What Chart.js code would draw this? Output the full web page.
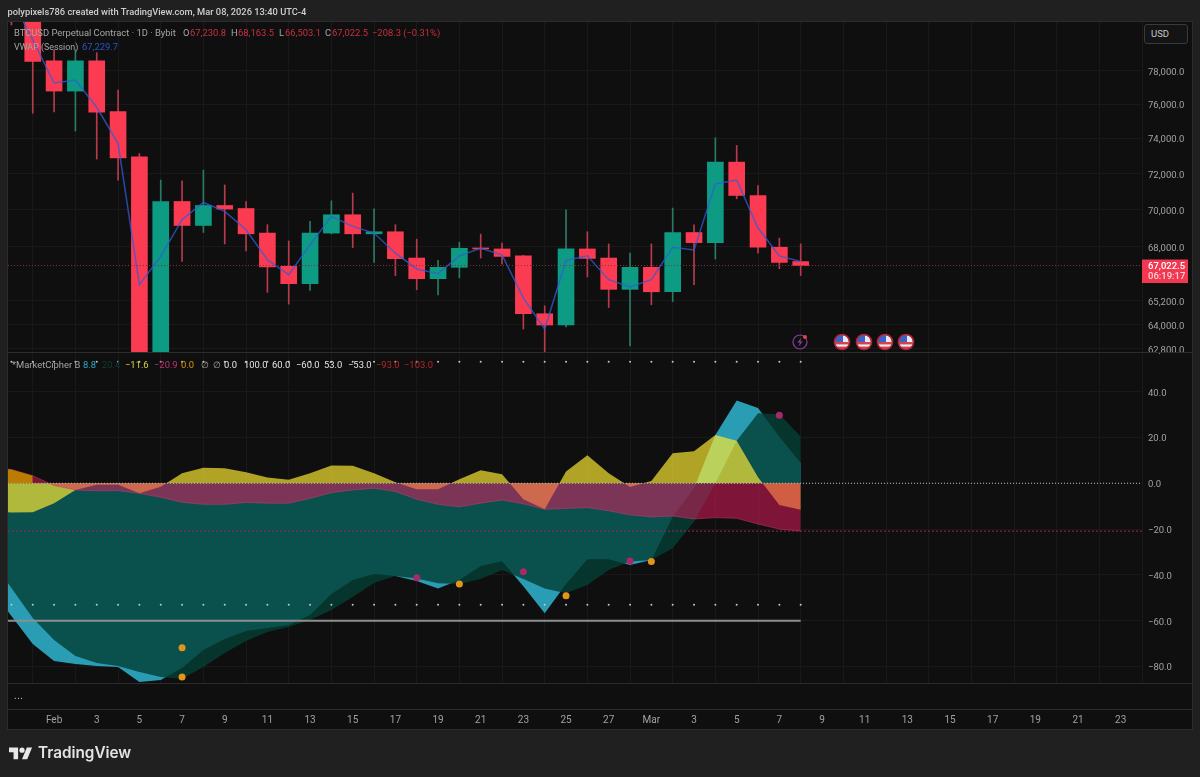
<!DOCTYPE html>
<html>
<head>
<meta charset="utf-8">
<title>BTCUSD MarketCipher B</title>
<script src="https://cdn.jsdelivr.net/npm/chart.js@4"></script>
<style>
  html, body { margin: 0; padding: 0; background: #202020; overflow: hidden; }
  #page { position: relative; width: 1200px; height: 777px; font-family: Roboto, sans-serif; }
  canvas { position: absolute; left: 0; top: 0; }
  .txt { position: absolute; white-space: nowrap; line-height: 12px; }
  #byline { left: 7.5px; top: 5.5px; font-size: 9.3px; font-weight: 500; color: #cfcfcf; }
  #usd { position: absolute; left: 1144px; top: 24px; width: 44px; height: 20px; box-sizing: border-box;
         border: 1px solid #3a3a3a; border-radius: 3px; background: #141414; color: #c8c8c8;
         font-size: 9.5px; line-height: 18px; padding-left: 6px; }
  #more { left: 14px; top: 690px; font-size: 10px; color: #c8c8c8; letter-spacing: 0.5px; }
  #brand { left: 38px; top: 745px; font-family: Inter, sans-serif; font-size: 15.3px; line-height: 16px; font-weight: 600; color: #e4e4e4; }
  svg.icon { position: absolute; }
</style>
</head>
<body>
<div id="page">
  <canvas id="myChart" width="1200" height="777"></canvas>
  <div class="txt" id="byline">polypixels786 created with TradingView.com, Mar 08, 2026 13:40 UTC-4</div>
  <div id="usd">USD</div>
  <div class="txt" id="more">...</div>
  <div class="txt" id="brand">TradingView</div>

  <svg width="0" height="0" style="position:absolute">
    <symbol id="flag" viewBox="0 0 18 18">
      <clipPath id="round"><circle cx="9" cy="9" r="7"/></clipPath>
      <g clip-path="url(#round)">
        <rect width="18" height="18" fill="#e8e8f0"/>
        <rect y="9" width="18" height="2.4" fill="#d8404f"/>
        <rect y="13.6" width="18" height="2.4" fill="#d8404f"/>
        <rect width="10" height="9" fill="#3a62c8"/>
      </g>
      <circle cx="9" cy="9" r="7.6" fill="none" stroke="#b02433" stroke-width="1.5"/>
    </symbol>
  </svg>
  <svg class="icon" style="left:833px;top:333px" width="18" height="18"><use href="#flag"/></svg>
  <svg class="icon" style="left:854.5px;top:333px" width="18" height="18"><use href="#flag"/></svg>
  <svg class="icon" style="left:876px;top:333px" width="18" height="18"><use href="#flag"/></svg>
  <svg class="icon" style="left:897px;top:333px" width="18" height="18"><use href="#flag"/></svg>
  <svg class="icon" style="left:791px;top:333px" width="18" height="18" viewBox="0 0 18 18">
    <circle cx="9" cy="9" r="7" fill="none" stroke="#8a3ea4" stroke-width="1.2"/>
    <path d="M10.5 4.6 6.4 9.6h2.5L7.6 13.4l4-5H9.2z" fill="#8a3ea4"/>
    <circle cx="14" cy="4" r="2" fill="#e8404a"/>
  </svg>
  <svg class="icon" style="left:9.3px;top:744.7px" width="23.4" height="18.2" viewBox="0 0 36 28">
    <path fill="#e8e8e8" d="M14 22H7V11H0V4h14v18zM28 22h-8l7.5-18h8L28 22z"/>
    <circle fill="#e8e8e8" cx="20" cy="8" r="4"/>
  </svg>
</div>

<script>
// days run from Jan 29, x position is the day number counted from Feb 1
const firstDay = -3;
const tickLabels = ['Feb','3','5','7','9','11','13','15','17','19','21','23','25','27',
                    'Mar','3','5','7','9','11','13','15','17','19','21','23'];

// daily candles, Jan 30 to Mar 8
const candleFirstDay = -2;
const opens = [84500,84000,
  78620,76788,78620,75570,72950,62500,70455,69150,70235,70070,68740,66980,66080,68740,
  69730,68700,68810,67415,66340,66930,67930,67895,67530,64550,63985,67895,67415,65790,
  66930,65665,68770,68230,72650,70785,67985,67230.8];
const highs = [85000,84500,
  79300,79300,79120,76850,73140,71640,71605,72200,71370,70455,69190,68320,69370,70490,
  70915,70055,69190,68415,67290,68255,68685,68200,67560,64950,70000,68810,68160,67675,
  68160,70095,69190,74040,73600,71330,68470,68163.5];
const lows = [80850,75470,
  75547,74430,72820,71640,60200,60100,67240,68770,68160,67790,65630,65035,65730,68700,
  67965,67185,66500,65770,65510,66380,67415,67100,63785,62640,63885,66430,64865,62950,
  65000,65165,66030,67360,70600,67675,66860,66503.1];
const closes = [84000,78590,
  76788,78620,75530,72890,62500,70455,69150,70235,70040,68700,66950,66080,68740,69730,
  68700,68810,67380,66340,66930,67930,67895,67500,64550,63985,67895,67395,65790,66930,
  65665,68770,68230,72650,70785,67985,67185,67022.5];
const vwap = [82500,79920,
  77270,77455,75825,73720,66030,67500,69460,70400,69910,68920,67325,66550,68110,69640,
  69100,68740,67670,66845,66600,67530,67930,67585,65340,63785,67290,67530,66290,65910,
  66290,67985,67845,71425,71645,69010,67530,67229.7];
const lastPrice = 67022.5;
const countdown = '06:19:17';
const priceTicks = [78000,76000,74000,72000,70000,68000,65200,64000,62800];

// MarketCipher B series, Jan 29 to Mar 8
const wave1 = [-46.2,-57.9,-70.2,
  -77.6,-78.9,-79.8,-80.2,-86.8,-85.9,-80.7,-72.8,-68.0,-64.5,-63.2,-61.9,-57.5,-48.3,
  -42.2,-39.6,-40.5,-42.7,-45.9,-42.2,-36.1,-34.1,-45.0,-56.8,-44.0,-33.2,-33.2,-35.7,
  -33.5,-14.6,-2.2,21.1,36.1,32.8,20.3,8.8];
const wave2 = [-32.6,-45.7,-58.8,
  -68.4,-75.4,-78.5,-79.8,-82.4,-84.6,-85.5,-80.2,-74.1,-68.9,-64.9,-62.8,-59.7,-55.3,
  -49.7,-43.5,-40.5,-41.6,-43.7,-44.0,-41.8,-37.9,-41.8,-45.9,-48.0,-44.4,-37.9,-34.2,
  -33.5,-28.4,-16.8,0,18.6,30.6,30.1,20.4];
const rsiArea = [-12.2,-12.8,-12.7,
  -8.7,-2.9,-0.7,-0.7,-4.4,-1.5,4.4,6.8,6.6,4.8,2.5,1.5,4.4,7.7,
  7.6,4.4,0.4,-2.6,-2.6,1.7,5.7,3.9,-7.0,-11.4,5.1,12.2,4.4,-1.6,
  1.0,13.1,14.0,21.1,18.6,2.6,-9.5,-11.6];
const moneyFlow = [7.0,6.0,3.3,
  -1.0,-2.9,-3.3,-3.2,-4.4,-6.1,-8.3,-9.2,-9.2,-8.4,-8.7,-8.7,-6.6,-4.1,
  -2.9,-2.2,-3.6,-7.0,-9.2,-10.3,-8.7,-7.3,-9.0,-11.4,-11.0,-10.6,-12.0,-13.8,
  -14.7,-14.3,-15.6,-15.0,-15.3,-17.8,-20.0,-20.9];
const flowEdge = [7.0,6.0,3.3];
const oscTicks = [40,20,0,-20,-40,-60,-80];
const obLevel = 53, osLevel = -53, extremeLevel = -60, zeroLevel = 0;

// signal dots
const pinkDotDays = [17,22,27,34];
const pinkDotValues = [-41.2,-38.6,-33.9,29.7];
const orangeDotDays = [6,6,19,24,28];
const orangeDotValues = [-71.8,-84.6,-44.0,-49.1,-34.2];

const priceRed = '#c9303f';
const legendGrey = '#a6a6a6';
const priceLegend = [
  ['BTCUSD Perpetual Contract · 1D · Bybit',14,27,legendGrey,9.4],
  ['O',183,27,legendGrey,9.4],['67,230.8',190,27,priceRed,9.4],
  ['H',231,27,legendGrey,9.4],['68,163.5',238,27,priceRed,9.4],
  ['L',279,27,legendGrey,9.4],['66,503.1',285,27,priceRed,9.4],
  ['C',325,27,legendGrey,9.4],['67,022.5',332,27,priceRed,9.4],
  ['−208.3 (−0.31%)',372,27,priceRed,9.4],
  ['VWAP (Session)',14,41,legendGrey,8.9],['67,229.7',82,41,'#2d54c4',9.4]
];
const oscLegend = [
  ['*MarketCipher B',12,legendGrey],['8.8',83,'#2fa9c0'],['20.4',102,'#123c38'],
  ['−11.6',125,'#d6d24a'],['−20.9',154,'#c4326e'],['0.0',181,'#e0950f'],
  ['∅',201,'#a8a8a8'],['∅',213,'#a8a8a8'],['0.0',224,'#e6e6e6'],['100.0',244,'#e6e6e6'],
  ['60.0',272,'#e6e6e6'],['−60.0',296,'#e6e6e6'],['53.0',324,'#e6e6e6'],['−53.0',348,'#e6e6e6'],
  ['−93.0',376,'#b3262c'],['−103.0',404,'#b3262c']
];

const bgColor = '#0f0f0f';
const gridColor = '#191919';
const upColor = '#0d9b84';
const downColor = '#fb3b52';
const upWick = '#2a7a68';
const downWick = '#b83a4c';

function addText(text, x, y, color, size) {
  var el = document.createElement('div');
  el.className = 'txt';
  el.textContent = text;
  el.style.left = x + 'px';
  el.style.top = y + 'px';
  el.style.color = color;
  el.style.fontSize = size + 'px';
  document.getElementById('page').appendChild(el);
}
priceLegend.forEach(function (l) { addText(l[0], l[1], l[2], l[3], l[4]); });
oscLegend.forEach(function (l) { addText(l[0], l[1], 358.5, l[2], 9.4); });

function daySeries(values) {
  return values.map(function (v, i) { return { x: i + firstDay, y: v }; });
}
function dots(days, values) {
  return days.map(function (d, i) { return { x: d, y: values[i] }; });
}
const lastDay = firstDay + wave1.length - 1;
const allDays = wave1.map(function (v, i) { return i + firstDay; });
const axisMin = -2.16, axisMax = 51;

function area(values, color, extra) {
  return Object.assign({
    type: 'line', yAxisID: 'osc', data: daySeries(values), fill: { value: 0 },
    backgroundColor: color, borderWidth: 0, pointRadius: 0, tension: 0
  }, extra || {});
}
function levelLine(value, from, to, color, width, dash, order) {
  return {
    type: 'line', yAxisID: 'osc', data: [{ x: from, y: value }, { x: to, y: value }],
    borderColor: color, borderWidth: width, borderDash: dash, pointRadius: 0, fill: false, order: order
  };
}
function levelDots(value) {
  return {
    type: 'scatter', yAxisID: 'osc', order: 2, showLine: false,
    data: allDays.slice(1).map(function (d) { return { x: d, y: value }; }),
    pointRadius: 1, backgroundColor: '#c4c4c4', borderWidth: 0
  };
}
function signalDots(days, values, color, size) {
  return {
    type: 'scatter', yAxisID: 'osc', order: 1, showLine: false, data: dots(days, values),
    pointRadius: size, backgroundColor: color, borderWidth: 0
  };
}

const candleDays = opens.map(function (v, i) { return i + candleFirstDay; });
const candleColors = opens.map(function (o, i) { return closes[i] < o ? downColor : upColor; });
const wickColors = opens.map(function (o, i) { return closes[i] < o ? downWick : upWick; });

// panel backgrounds and separators
const panes = {
  id: 'panes',
  beforeDraw: function (chart) {
    const c = chart.ctx;
    c.fillStyle = bgColor;
    c.fillRect(8, 21, 1184, 709);
    // nudge the value labels down onto their grid lines
    [chart.scales.y, chart.scales.osc].forEach(function (s) {
      s.getLabelItems().forEach(function (it) { it.options.translation[1] += 1.5; });
    });
  },
  beforeDatasetsDraw: function (chart) {
    const c = chart.ctx, s = chart.scales.blank;
    c.fillStyle = bgColor;
    c.fillRect(8, s.top, 1184, s.bottom - s.top);
  },
  afterDraw: function (chart) {
    const c = chart.ctx, sc = chart.scales;
    c.strokeStyle = '#2c2c2c';
    c.lineWidth = 1;
    [sc.y.bottom, sc.osc.bottom, sc.blank.bottom].forEach(function (y) {
      c.beginPath();
      c.moveTo(8, Math.round(y) + 0.5);
      c.lineTo(1192, Math.round(y) + 0.5);
      c.stroke();
    });
    c.strokeRect(7.5, 21.5, 1185, 708);

    // last price tag on the price axis
    const py = sc.y.getPixelForValue(lastPrice);
    c.fillStyle = '#f23850';
    c.fillRect(1142, py - 6, 46, 23.5);
    c.textAlign = 'left';
    c.textBaseline = 'middle';
    c.font = '500 9.5px Roboto';
    c.fillStyle = '#ffffff';
    c.fillText(lastPrice.toLocaleString('en-US', { minimumFractionDigits: 1 }), 1148, py + 1);
    c.fillStyle = '#ffd0d6';
    c.fillText(countdown, 1148, py + 11.5);
  }
};

var chart = new Chart(document.getElementById('myChart').getContext('2d'), {
  type: 'line',
  plugins: [panes],
  data: {
    datasets: [
      // price pane
      {
        type: 'bar', yAxisID: 'y', order: 30, grouped: false, barThickness: 1,
        data: candleDays.map(function (d, i) { return { x: d, y: [lows[i], highs[i]] }; }),
        backgroundColor: wickColors, borderWidth: 0
      },
      {
        type: 'bar', yAxisID: 'y', order: 29, grouped: false, barThickness: 16, minBarLength: 1,
        data: candleDays.map(function (d, i) { return { x: d, y: [opens[i], closes[i]] }; }),
        backgroundColor: candleColors, borderWidth: 0
      },
      {
        type: 'line', yAxisID: 'y', order: 28,
        data: candleDays.map(function (d, i) { return { x: d, y: vwap[i] }; }),
        borderColor: 'rgba(48,92,214,0.75)', borderWidth: 1.5, pointRadius: 0, tension: 0, fill: false
      },
      {
        type: 'line', yAxisID: 'y', order: 27,
        data: [{ x: axisMin, y: lastPrice }, { x: axisMax, y: lastPrice }],
        borderColor: '#8a2f3c', borderWidth: 1, borderDash: [1, 2], pointRadius: 0, fill: false
      },

      // MarketCipher B pane, first listed with the highest order goes underneath
      area(wave1, 'rgb(42,156,180)', { order: 20 }),
      area(wave2, 'rgba(3,62,52,0.8)', { order: 19 }),
      area(rsiArea, 'rgba(255,235,50,0.68)', { order: 18 }),
      area(moneyFlow, 'rgba(237,25,95,0.5)', { order: 17, borderWidth: 1, borderColor: 'rgba(200,60,115,0.5)' }),
      area(flowEdge, 'rgb(189,124,0)', { order: 16 }),
      levelLine(zeroLevel, axisMin, axisMax, '#b8b8b8', 1, [1, 2], 5),
      levelLine(moneyFlow[moneyFlow.length - 1], axisMin, axisMax, '#a02555', 1, [2, 2], 4),
      levelLine(extremeLevel, axisMin, lastDay, '#8e8e8e', 2, [], 3),
      levelDots(obLevel),
      levelDots(osLevel),
      signalDots(pinkDotDays, pinkDotValues, '#a8286c', 3.5),
      signalDots(orangeDotDays, orangeDotValues, '#e2951a', 3.5)
    ]
  },
  options: {
    responsive: false,
    animation: false,
    events: [],
    layout: { padding: { left: 8, right: 8, top: 21, bottom: 48 } },
    plugins: { legend: { display: false }, tooltip: { enabled: false } },
    scales: {
      x: {
        type: 'linear', min: axisMin, max: axisMax, offset: false,
        grid: { color: gridColor, drawTicks: false },
        border: { display: false },
        afterFit: function (s) { s.height = 20; },
        afterBuildTicks: function (s) {
          s.ticks = tickLabels.map(function (t, i) { return { value: i * 2 }; });
        },
        ticks: {
          autoSkip: false, maxRotation: 0, minRotation: 0, padding: 5,
          color: '#a2a2a2', font: { family: 'Roboto', size: 10 },
          callback: function (v, i) { return tickLabels[i]; }
        }
      },
      y: {
        type: 'logarithmic', position: 'right', stack: 'panes', stackWeight: 331,
        min: 62653, max: 81100,
        grid: { color: gridColor, drawTicks: false },
        border: { display: false },
        afterFit: function (s) { s.width = 50; },
        afterBuildTicks: function (s) {
          s.ticks = priceTicks.map(function (v) { return { value: v }; });
        },
        ticks: {
          autoSkip: false, padding: 6, color: '#a2a2a2', font: { family: 'Roboto', size: 9.5 },
          callback: function (v) { return v.toLocaleString('en-US', { minimumFractionDigits: 1 }); }
        }
      },
      osc: {
        type: 'linear', position: 'right', stack: 'panes', stackWeight: 331,
        min: -87.2, max: 57.3,
        grid: { color: gridColor, drawTicks: false },
        border: { display: false },
        afterFit: function (s) { s.width = 50; },
        afterBuildTicks: function (s) {
          s.ticks = oscTicks.map(function (v) { return { value: v }; });
        },
        ticks: {
          autoSkip: false, padding: 6, color: '#a2a2a2', font: { family: 'Roboto', size: 9.5 },
          callback: function (v) { return v.toFixed(1).replace('-', '−'); }
        }
      },
      blank: {
        type: 'linear', position: 'right', stack: 'panes', stackWeight: 26,
        grid: { display: false }, border: { display: false },
        ticks: { display: false },
        afterFit: function (s) { s.width = 50; }
      }
    }
  }
});
</script>
</body>
</html>
